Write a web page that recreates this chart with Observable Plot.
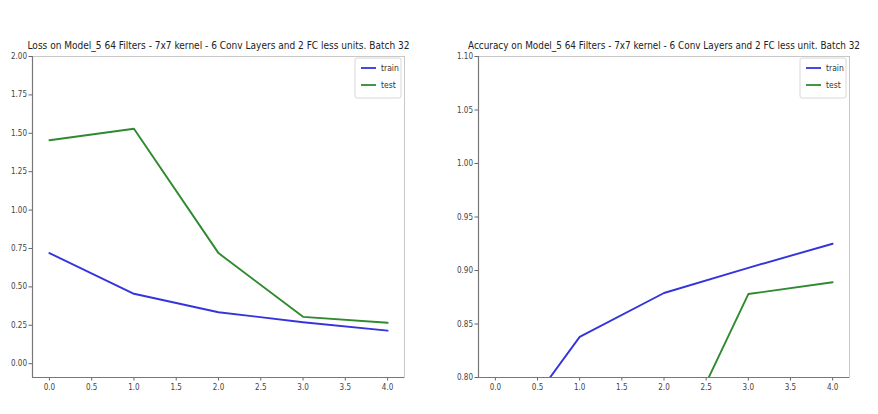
<!DOCTYPE html>
<html><head><meta charset="utf-8">
<script src="https://cdn.jsdelivr.net/npm/d3@7"></script>
<script src="https://cdn.jsdelivr.net/npm/@observablehq/plot@0.6"></script>
<style>
body{margin:0;background:#fff;}
#row{display:flex;width:878px;height:414px;}
#row svg{font-family:"DejaVu Sans Condensed","DejaVu Sans",sans-serif;background:#fff;overflow:visible;}
</style></head><body><div id="row"></div>
<script>
const epochs = [0, 1, 2, 3, 4];
const trainLoss = [0.72, 0.455, 0.335, 0.27, 0.215];
const testLoss = [1.455, 1.53, 0.72, 0.305, 0.266];
const trainAcc = [0.73, 0.838, 0.879, 0.9025, 0.925];
const testAcc = [0.56, 0.52, 0.712, 0.878, 0.889];
const seriesNames = ["train", "test"];
const xTicks = [0, 0.5, 1, 1.5, 2, 2.5, 3, 3.5, 4];
const lossTicks = [0, 0.25, 0.5, 0.75, 1.0, 1.25, 1.5, 1.75, 2.0];
const accTicks = [0.8, 0.85, 0.9, 0.95, 1.0, 1.05, 1.1];
const lossTitle = "Loss on Model_5 64 Filters - 7x7 kernel - 6 Conv Layers and 2 FC less units. Batch 32";
const accTitle = "Accuracy on Model_5 64 Filters - 7x7 kernel - 6 Conv Layers and 2 FC less unit. Batch 32";
const colors = ["#3434dc", "#2f8a2f"];

function rows(train, test) {
  return [
    ...epochs.map((e, i) => ({epoch: e, value: train[i], series: seriesNames[0]})),
    ...epochs.map((e, i) => ({epoch: e, value: test[i], series: seriesNames[1]}))
  ];
}

function chart({data, title, yDomain, yTicks, ml, mr, titleLen, legendX}) {
  const plot = Plot.plot({
    width: 439, height: 414,
    marginLeft: ml, marginRight: mr, marginTop: 56, marginBottom: 37,
    style: {fontSize: "8px", color: "#333"},
    x: {domain: [-0.2, 4.2], label: null},
    y: {domain: yDomain, label: null},
    color: {domain: seriesNames, range: colors},
    marks: [
      Plot.frame({stroke: "#c8c8c8"}),
      Plot.axisX(xTicks, {tickFormat: d3.format(".1f"), tickSize: 3.5, tickPadding: 3, fontSize: 8, fill: "#444", stroke: "#666"}),
      Plot.axisY(yTicks, {tickFormat: d3.format(".2f"), tickSize: 3.5, tickPadding: 2, fontSize: 8, fill: "#444", stroke: "#666"}),
      Plot.ruleX([-0.2], {stroke: "#777", strokeWidth: 1.2}),
      Plot.ruleY([yDomain[0]], {stroke: "#777", strokeWidth: 1.2}),
      Plot.line(data, {x: "epoch", y: "value", stroke: "series", z: "series", strokeWidth: 1.9, clip: true}),
      Plot.text([title], {frameAnchor: "top", lineAnchor: "bottom", dy: -8, fontSize: 8, fill: "#222", className: "ttl"})
    ]
  });
  const svg = d3.select(plot);
  svg.selectAll(".ttl text").attr("textLength", titleLen).attr("lengthAdjust", "spacingAndGlyphs");
  svg.selectAll("g.ttl").each(function() {
    const t = this.getAttribute("transform") || "";
    this.setAttribute("transform", t + " translate(0,56) scale(1,1.3) translate(0,-56)");
  });
  const g = svg.append("g").attr("text-anchor", "start");
  g.append("rect").attr("x", legendX).attr("y", 58).attr("width", 46).attr("height", 40)
    .attr("rx", 2).attr("fill", "#fff").attr("stroke", "#d8d8d8");
  seriesNames.forEach((s, i) => {
    const y = 68 + i * 17;
    g.append("line").attr("x1", legendX + 6).attr("x2", legendX + 21).attr("y1", y).attr("y2", y)
      .attr("stroke", colors[i]).attr("stroke-width", 1.8);
    g.append("text").attr("x", legendX + 26).attr("y", y + 3).attr("font-size", 8.5)
      .attr("text-anchor", "start").attr("fill", "#333").text(s);
  });
  return plot;
}

const row = document.getElementById("row");
row.append(chart({data: rows(trainLoss, testLoss), title: lossTitle, yDomain: [-0.09, 2.0], yTicks: lossTicks,
  ml: 32, mr: 35, titleLen: 382, legendX: 355}));
row.append(chart({data: rows(trainAcc, testAcc), title: accTitle, yDomain: [0.8, 1.1], yTicks: accTicks,
  ml: 39, mr: 29, titleLen: 392, legendX: 361}));
</script></body></html>
